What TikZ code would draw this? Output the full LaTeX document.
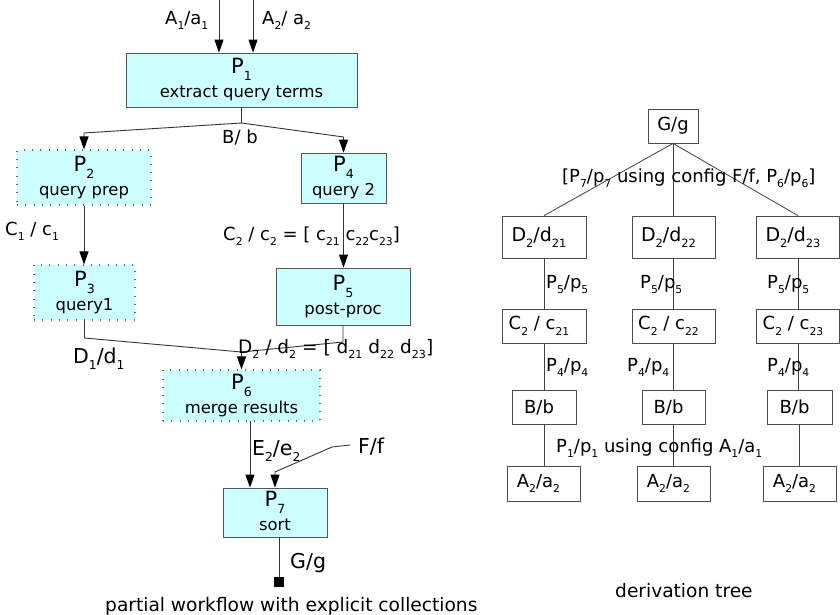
\documentclass[tikz,border=0pt]{standalone}
\usepackage{fontspec}
\setmainfont{DejaVu Sans}
\usepackage{graphicx}
\usetikzlibrary{arrows.meta}
\definecolor{procfill}{HTML}{CCFFFF}
\definecolor{linegray}{HTML}{333333}
\definecolor{bordergray}{HTML}{555555}
\newcommand{\sbs}[1]{\raisebox{-0.32em}{\scalebox{0.6}{#1}}}
\newcommand{\proctext}[2]{{\fontsize{21}{24}\selectfont P\sbs{#1}}\\#2\vphantom{q}}
\newcommand{\tlft}[1]{\hspace*{-10pt}#1}
\begin{document}
\begin{tikzpicture}[x=1pt,y=-1pt,
  every node/.style={inner sep=0pt},
  procbox/.style={draw=bordergray, line width=0.8pt, fill=procfill, align=center, font=\fontsize{16.4}{24}\selectfont},
  dotbox/.style={procbox, draw=black!60, line width=1.1pt, dash pattern=on 0.9pt off 7.4pt},
  conn/.style={draw=linegray, line width=0.9pt},
  arr/.style={conn, -{Triangle[length=13pt,width=9pt,color=black]}},
  lab/.style={anchor=base west, font=\fontsize{18}{20}\selectfont},
  biglab/.style={anchor=base west, font=\fontsize{20.5}{22}\selectfont},
  tbox/.style={draw=black!70, line width=0.8pt, fill=white, font=\fontsize{18}{20}\selectfont},
  dbox/.style={tbox, font=\fontsize{19}{20}\selectfont},
  tline/.style={draw=black!75, line width=0.8pt},
  sinksq/.style={fill=black, minimum size=10pt}
]
\useasboundingbox (0,0) rectangle (840,614);

% ---------- partial workflow ----------
\node[procbox, minimum width=231pt, minimum height=54pt] (P1) at (241.5,80) {\proctext{1}{extract query terms}};
\node[dotbox, minimum width=134pt, minimum height=55pt] (P2) at (84,177.5) {\proctext{2}{query prep}};
\node[procbox, minimum width=85pt, minimum height=50pt] (P4) at (343.5,178) {\proctext{4}{query 2}};
\node[dotbox, minimum width=101pt, minimum height=55pt] (P3) at (84.5,292.5) {\proctext{3}{query1}};
\node[procbox, minimum width=134pt, minimum height=57pt] (P5) at (343,296.5) {\proctext{5}{post-proc}};
\node[dotbox, minimum width=157pt, minimum height=51pt] (P6) at (241.5,395.5) {\proctext{6}{merge results}};
\node[procbox, minimum width=104pt, minimum height=49pt] (P7) at (275,512.5) {\proctext{7}{sort}};

\coordinate (inA1) at (219,0);
\coordinate (inA2) at (253,0);
\draw[arr] (inA1) -- (inA1 |- P1.north);
\draw[arr] (inA2) -- (inA2 |- P1.north);

\coordinate (bsplit) at (241.5,123);
\coordinate (bl) at (84,133);
\coordinate (br) at (343.5,137);
\draw[conn] (P1.south) -- (bsplit);
\draw[arr] (bsplit) -- (bl) -- (P2.north);
\draw[arr] (bsplit) -- (br) -- (P4.north);

\draw[arr] (P2.south) -- (P2.south |- P3.north);
\draw[arr] (P4.south) -- (P4.south |- P5.north);

\coordinate (d1bend) at (84.5,338);
\coordinate (d2bend) at (343,342);
\coordinate (dmerge) at (241.5,352);
\draw[conn] (P3.south) -- (d1bend) -- (dmerge);
\draw[conn] (P5.south) -- (d2bend) -- (dmerge);
\draw[arr] (dmerge) -- (P6.north);

\coordinate (eout) at (250,421);
\draw[arr] (eout) -- (eout |- P7.north);

\coordinate (fstart) at (350,445);
\coordinate (fbend1) at (332,447);
\coordinate (fbend2) at (275,472);
\draw[arr] (fstart) -- (fbend1) -- (fbend2) -- (fbend2 |- P7.north);

\node[sinksq] (sink) at (279,582) {};
\draw[conn] (sink |- P7.south) -- (sink.north);

\node[lab] (lA1) at (165,24) {A\sbs{1}/a\sbs{1}};
\node[lab] (lA2) at (262,24) {A\sbs{2}/ a\sbs{2}};
\node[lab] (lB) at (222,143) {B/ b};
\node[lab] (lC1) at (5,235) {C\sbs{1} / c\sbs{1}};
\node[lab] (lC2) at (223,240) {C\sbs{2} / c\sbs{2} = [ c\sbs{21} c\sbs{22}c\sbs{23}]};
\node[biglab] (lD1) at (73,363) {D\sbs{1}/d\sbs{1}};
\node[lab, font=\fontsize{18.5}{20}\selectfont] (lD2) at (238,353) {D\sbs{2} / d\sbs{2} = [ d\sbs{21} d\sbs{22} d\sbs{23}]};
\node[biglab] (lE2) at (252,455) {E\sbs{2}/e\sbs{2}};
\node[biglab] (lF) at (358,453) {F/f};
\node[biglab] (lG) at (290,568) {G/g};
\node[anchor=base west, font=\fontsize{18.6}{20}\selectfont] (capL) at (105,611) {partial workflow with explicit collections};

% ---------- derivation tree ----------
\node[tbox, minimum width=50pt, minimum height=34pt] (G) at (673,126) {G/g};

\node[dbox, minimum width=84pt, minimum height=42pt] (D1) at (544,237) {\tlft{D\sbs{2}/d\sbs{21}}};
\node[dbox, minimum width=83pt, minimum height=42pt] (D2) at (673.5,237) {\tlft{D\sbs{2}/d\sbs{22}}};
\node[dbox, minimum width=83pt, minimum height=42pt] (D3) at (798,237) {\tlft{D\sbs{2}/d\sbs{23}}};

\node[tbox, minimum width=84pt, minimum height=34pt] (C1) at (544,326) {\tlft{C\sbs{2} / c\sbs{21}}};
\node[tbox, minimum width=83pt, minimum height=34pt] (C2) at (673.5,326) {\tlft{C\sbs{2} / c\sbs{22}}};
\node[tbox, minimum width=83pt, minimum height=34pt] (C3) at (798,326) {\tlft{C\sbs{2} / c\sbs{23}}};

\node[tbox, minimum width=64pt, minimum height=34pt] (B1) at (544,407) {\tlft{B/b}};
\node[tbox, minimum width=63pt, minimum height=34pt] (B2) at (673.5,407) {\tlft{B/b}};
\node[tbox, minimum width=65pt, minimum height=34pt] (B3) at (799.5,407) {\tlft{B/b}};

\node[tbox, minimum width=73pt, minimum height=35pt] (A1) at (543.5,483.5) {\tlft{A\sbs{2}/a\sbs{2}}};
\node[tbox, minimum width=73pt, minimum height=35pt] (A2) at (673.5,483.5) {\tlft{A\sbs{2}/a\sbs{2}}};
\node[tbox, minimum width=73pt, minimum height=35pt] (A3) at (799.5,483.5) {\tlft{A\sbs{2}/a\sbs{2}}};

\draw[tline] (G.south) -- (D1.north);
\draw[tline] (G.south) -- (G.south |- D2.north);
\draw[tline] (G.south) -- (D3.north);

\draw[tline] (D1.south) -- (C1.north);
\draw[tline] (D2.south) -- (C2.north);
\draw[tline] (D3.south) -- (C3.north);

\draw[tline] (C1.south) -- (C1.south |- B1.north);
\draw[tline] (C2.south) -- (C2.south |- B2.north);
\draw[tline] (C3.south) -- (C3.south |- B3.north);

\draw[tline] (B1.south) -- (B1.south |- A1.north);
\draw[tline] (B2.south) -- (B2.south |- A2.north);
\draw[tline] (B3.south) -- (B3.south |- A3.north);

\node[lab] (tP7) at (562,182) {[P\sbs{7}/p\sbs{7} using config F/f, P\sbs{6}/p\sbs{6}]};
\node[lab] (tP5a) at (546,288) {P\sbs{5}/p\sbs{5}};
\node[lab] (tP5b) at (640,288) {P\sbs{5}/p\sbs{5}};
\node[lab] (tP5c) at (767,288) {P\sbs{5}/p\sbs{5}};
\node[lab] (tP4a) at (546,371) {P\sbs{4}/p\sbs{4}};
\node[lab] (tP4b) at (627,371) {P\sbs{4}/p\sbs{4}};
\node[lab] (tP4c) at (767,371) {P\sbs{4}/p\sbs{4}};
\node[lab] (tP1) at (556,452) {P\sbs{1}/p\sbs{1} using config A\sbs{1}/a\sbs{1}};
\node[anchor=base west, font=\fontsize{18.6}{20}\selectfont] (capR) at (615,597) {derivation tree};
\end{tikzpicture}
\end{document}
